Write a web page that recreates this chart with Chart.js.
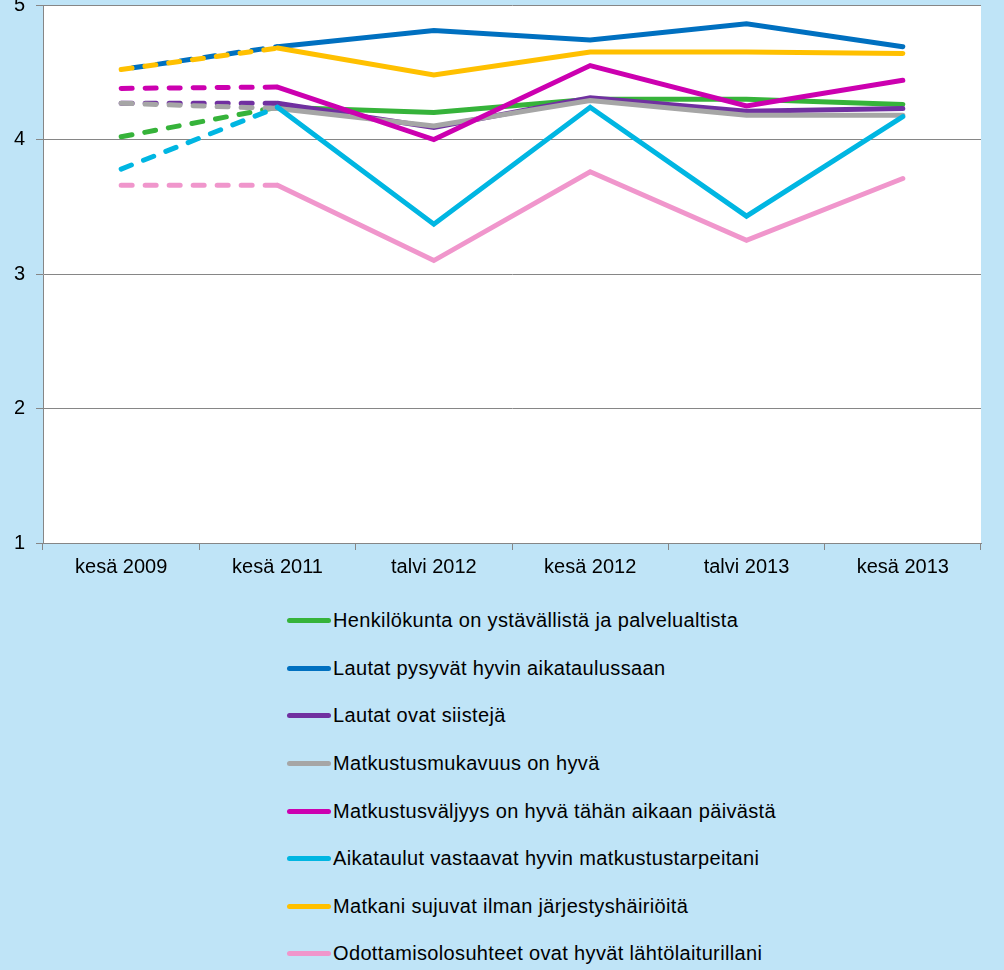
<!DOCTYPE html>
<html>
<head>
<meta charset="utf-8">
<script src="https://cdn.jsdelivr.net/npm/chart.js@4"></script>
<style>
  html, body { margin: 0; padding: 0; background: #BFE4F7; width: 1004px; height: 970px; overflow: hidden; }
  #wrap { position: absolute; left: 0; top: 0; width: 1004px; height: 590px; }
  #legend { position: absolute; left: 287px; top: 597px; font-family: "Liberation Sans", Arial, sans-serif; font-size: 20px; letter-spacing: 0.35px; color: #000; }
  .row { height: 47.6px; display: flex; align-items: center; }
  .mark { width: 44px; height: 5px; border-radius: 2.5px; margin-right: 2px; flex: none; }
</style>
</head>
<body>
<div id="wrap"><canvas id="c"></canvas></div>
<div id="legend"></div>
<script>
const categories = ['kesä 2009', 'kesä 2011', 'talvi 2012', 'kesä 2012', 'talvi 2013', 'kesä 2013'];
const seriesNames = [
  'Henkilökunta on ystävällistä ja palvelualtista',
  'Lautat pysyvät hyvin aikataulussaan',
  'Lautat ovat siistejä',
  'Matkustusmukavuus on hyvä',
  'Matkustusväljyys on hyvä tähän aikaan päivästä',
  'Aikataulut vastaavat hyvin matkustustarpeitani',
  'Matkani sujuvat ilman järjestyshäiriöitä',
  'Odottamisolosuhteet ovat hyvät lähtölaiturillani'
];
const henkilokunta = [4.02, 4.24, 4.20, 4.30, 4.30, 4.26];
const aikataulussa = [4.52, 4.69, 4.81, 4.74, 4.86, 4.69];
const siisteja     = [4.27, 4.27, 4.09, 4.31, 4.21, 4.23];
const mukavuus     = [4.27, 4.23, 4.10, 4.29, 4.18, 4.18];
const valjyys      = [4.38, 4.39, 4.00, 4.55, 4.25, 4.44];
const aikataulut   = [3.78, 4.24, 3.37, 4.24, 3.43, 4.17];
const jarjestys    = [4.52, 4.68, 4.48, 4.65, 4.65, 4.64];
const odottamis    = [3.66, 3.66, 3.10, 3.76, 3.25, 3.71];
const yTicks = [1, 2, 3, 4, 5];

const seriesValues = [henkilokunta, aikataulussa, siisteja, mukavuus, valjyys, aikataulut, jarjestys, odottamis];
const colors = ['#36B33A', '#0070C0', '#7030A0', '#A6A6A6', '#CC00B0', '#00B6E2', '#FFC000', '#F096CC'];
const dashOffsets = [0, 12, 0, 0, 0, 0, 0, 0];

const N = seriesValues.length;
const datasets = seriesValues.map((vals, i) => ({
  label: seriesNames[i],
  data: vals,
  borderColor: colors[i],
  backgroundColor: colors[i],
  borderWidth: 5,
  borderCapStyle: 'round',
  pointRadius: 0,
  pointHoverRadius: 0,
  tension: 0,
  fill: false,
  order: N - i,
  segment: {
    borderDash: ctx => ctx.p0DataIndex === 0 ? [11, 13] : undefined,
    borderDashOffset: ctx => ctx.p0DataIndex === 0 ? dashOffsets[i] : 0
  }
}));

const plotBg = {
  id: 'plotBg',
  beforeDraw(chart) {
    const {ctx, chartArea: a} = chart;
    ctx.save();
    ctx.fillStyle = '#FFFFFF';
    ctx.fillRect(a.left, a.top, a.right - a.left, a.bottom - a.top);
    ctx.restore();
  }
};

const font = { family: '"Liberation Sans", Arial, sans-serif', size: 20 };

const chart = new Chart(document.getElementById('c'), {
  type: 'line',
  data: { labels: categories, datasets },
  plugins: [plotBg],
  options: {
    responsive: true,
    maintainAspectRatio: false,
    animation: false,
    layout: { padding: { left: 0, right: 23, top: 5, bottom: 0 } },
    plugins: { legend: { display: false }, tooltip: { enabled: false } },
    scales: {
      x: {
        offset: true,
        grid: { display: true, drawOnChartArea: false, offset: true, tickLength: 7, color: '#868686', lineWidth: 1 },
        border: { display: true, color: '#868686', width: 1 },
        ticks: { color: '#000', font, padding: 5, maxRotation: 0, autoSkip: false },
        afterFit(s) { s.height = 47; s.paddingLeft = 0; s.paddingRight = 0; }
      },
      y: {
        min: 1, max: 5,
        afterBuildTicks(s) { s.ticks = yTicks.map(v => ({ value: v })); },
        grid: { color: '#868686', lineWidth: 1, tickLength: 7 },
        border: { display: true, color: '#868686', width: 1 },
        ticks: { color: '#000', font, padding: 11 },
        afterFit(s) { s.width = 43; s.paddingTop = 0; s.paddingBottom = 0; }
      }
    }
  }
});

const legend = document.getElementById('legend');
seriesNames.forEach((name, i) => {
  const row = document.createElement('div');
  row.className = 'row';
  const mark = document.createElement('span');
  mark.className = 'mark';
  mark.style.background = colors[i];
  const txt = document.createElement('span');
  txt.textContent = name;
  row.appendChild(mark);
  row.appendChild(txt);
  legend.appendChild(row);
});
</script>
</body>
</html>
